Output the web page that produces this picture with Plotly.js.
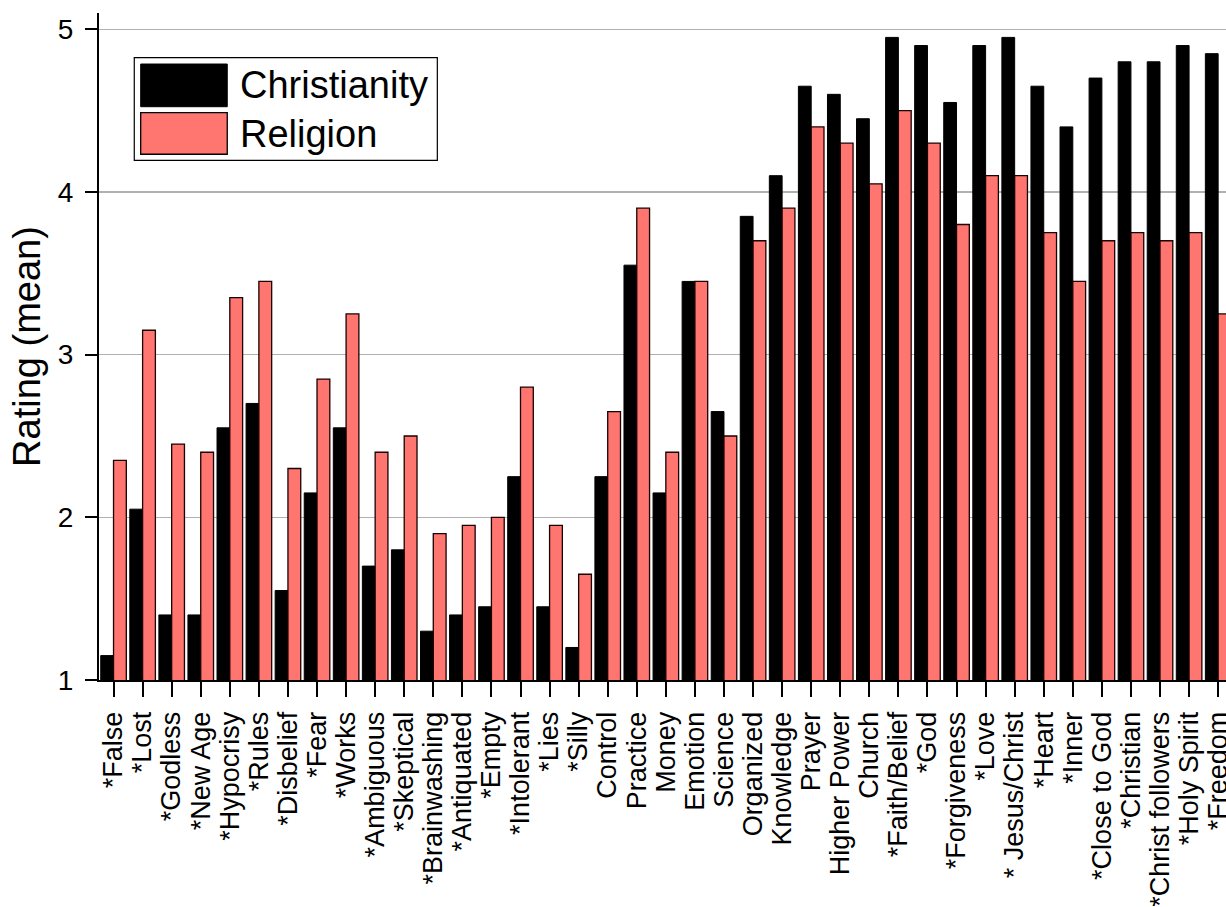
<!DOCTYPE html>
<html>
<head>
<meta charset="utf-8">
<script src="https://cdn.plot.ly/plotly-3.0.1.min.js"></script>
<style>html,body{margin:0;padding:0;background:#fff;}#chart{width:1226px;height:907px;}</style>
</head>
<body>
<div id="chart"></div>
<script>
var categories = ['*False','*Lost','*Godless','*New Age','*Hypocrisy','*Rules','*Disbelief','*Fear','*Works','*Ambiguous','*Skeptical','*Brainwashing','*Antiquated','*Empty','*Intolerant','*Lies','*Silly','Control','Practice','Money','Emotion','Science','Organized','Knowledge','Prayer','Higher Power','Church','*Faith/Belief','*God','*Forgiveness','*Love','* Jesus/Christ','*Heart','*Inner','*Close to God','*Christian','*Christ followers','*Holy Spirit','*Freedom'];
var christianity = [1.15,2.05,1.40,1.40,2.55,2.70,1.55,2.15,2.55,1.70,1.80,1.30,1.40,1.45,2.25,1.45,1.20,2.25,3.55,2.15,3.45,2.65,3.85,4.10,4.65,4.60,4.45,4.95,4.90,4.55,4.90,4.95,4.65,4.40,4.70,4.80,4.80,4.90,4.85];
var religion = [2.35,3.15,2.45,2.40,3.35,3.45,2.30,2.85,3.25,2.40,2.50,1.90,1.95,2.00,2.80,1.95,1.65,2.65,3.90,2.40,3.45,2.50,3.70,3.90,4.40,4.30,4.05,4.50,4.30,3.80,4.10,4.10,3.75,3.45,3.70,3.75,3.70,3.75,3.25];
var seriesNames = ['Christianity','Religion'];
var seriesColors = ['#000000','#ff7570'];
var yTicks = [1,2,3,4,5];

var FONT = 'Arial, "Liberation Sans", sans-serif';

var traces = [
  {type:'bar', name:seriesNames[0], x:categories, y:christianity,
   marker:{color:seriesColors[0], line:{color:'#000', width:1}}, showlegend:false},
  {type:'bar', name:seriesNames[1], x:categories, y:religion,
   marker:{color:seriesColors[1], line:{color:'#1a0000', width:1.3}}, showlegend:false}
];

// custom legend (large swatches)
var lx0 = 0.0313, lx1 = 0.3002, ly0 = 0.779, ly1 = 0.933;
var shapes = [
  {type:'rect', xref:'paper', yref:'paper', x0:lx0, x1:lx1, y0:ly0, y1:ly1,
   line:{color:'#000', width:1.2}, fillcolor:'#fff', layer:'above'},
  {type:'rect', xref:'paper', yref:'paper', x0:0.0370, x1:0.1138, y0:0.8595, y1:0.9235,
   line:{color:'#000', width:1}, fillcolor:seriesColors[0], layer:'above'},
  {type:'rect', xref:'paper', yref:'paper', x0:0.0370, x1:0.1138, y0:0.7882, y1:0.8505,
   line:{color:'#000', width:1.3}, fillcolor:seriesColors[1], layer:'above'}
];
var annotations = [
  {xref:'paper', yref:'paper', x:0.1235, y:0.8915, xanchor:'left', yanchor:'middle',
   text:seriesNames[0], showarrow:false, font:{family:FONT, size:38, color:'#000'}},
  {xref:'paper', yref:'paper', x:0.1235, y:0.8193, xanchor:'left', yanchor:'middle',
   text:seriesNames[1], showarrow:false, font:{family:FONT, size:38, color:'#000'}}
];

var layout = {
  width:1226, height:907,
  margin:{l:99, r:0, t:13, b:227, pad:0},
  paper_bgcolor:'#fff', plot_bgcolor:'#fff',
  font:{family:FONT, color:'#000'},
  barmode:'group', bargap:0.12, bargroupgap:0,
  showlegend:false,
  xaxis:{
    type:'category', range:[-0.5, 38.27], autorange:false,
    tickmode:'array', tickvals:categories, ticktext:categories,
    showline:true, linecolor:'#000', linewidth:2,
    ticks:'outside', ticklen:15, tickwidth:2, tickcolor:'#000',
    ticklabelstandoff:4,
    tickangle:-90, tickfont:{family:FONT, size:27, color:'#000'},
    showgrid:false, zeroline:false, fixedrange:true
  },
  yaxis:{
    range:[1, 5.1], autorange:false,
    tickmode:'array', tickvals:yTicks, ticktext:yTicks.map(String),
    showline:true, linecolor:'#000', linewidth:2,
    ticks:'outside', ticklen:12, tickwidth:2, tickcolor:'#000',
    ticklabelstandoff:6,
    tickfont:{family:FONT, size:28, color:'#000'},
    showgrid:true, gridcolor:'#b0b0b0', gridwidth:1.5,
    zeroline:false,
    title:{text:'Rating (mean)', font:{family:FONT, size:38, color:'#000'}, standoff:6}
  },
  shapes:shapes,
  annotations:annotations
};

Plotly.newPlot('chart', traces, layout, {displayModeBar:false, staticPlot:true});
</script>
</body>
</html>
